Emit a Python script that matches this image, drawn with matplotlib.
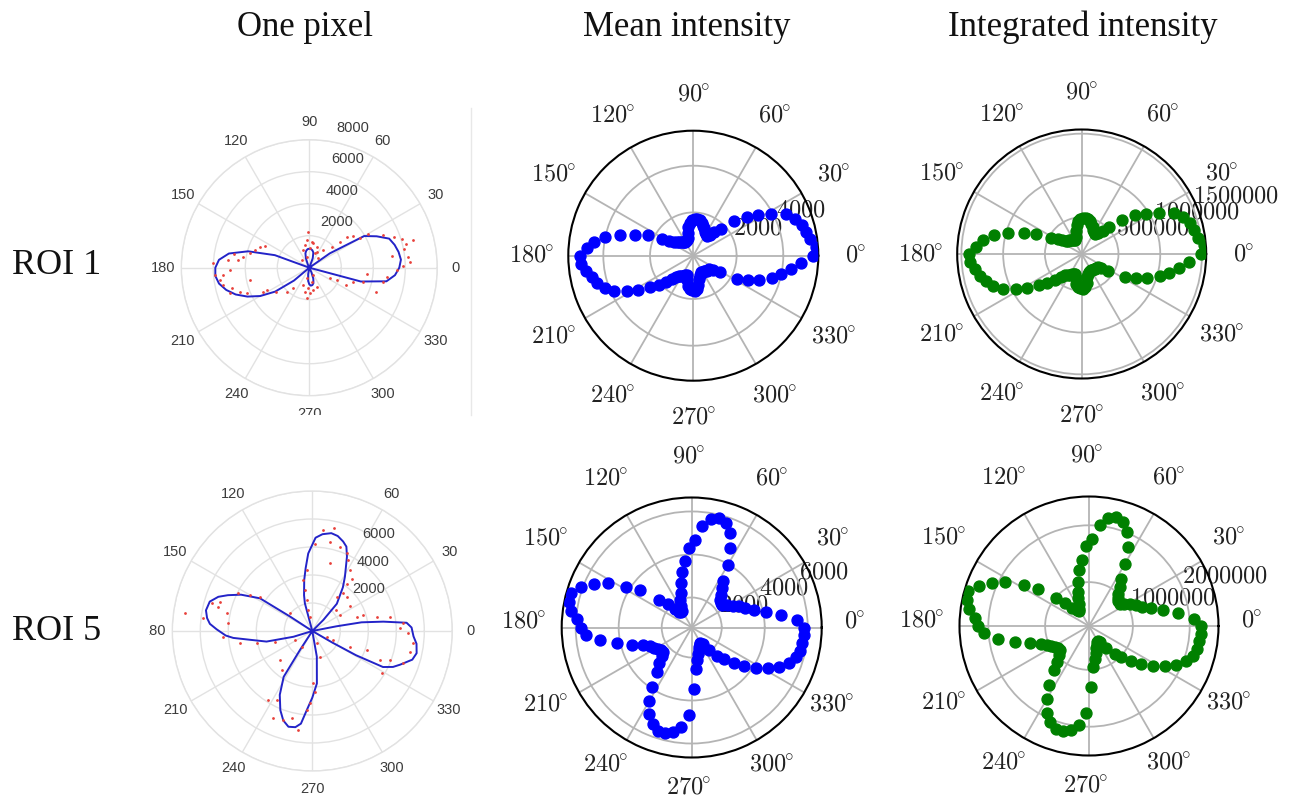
import numpy as np
import matplotlib
matplotlib.use("Agg")
import matplotlib.pyplot as plt
from matplotlib.patches import Rectangle
from matplotlib.lines import Line2D
from matplotlib.transforms import ScaledTranslation

plt.rcParams["mathtext.fontset"] = "cm"

# ---------------------------------------------------------------- data
# polarizer angles (deg) of the ROI-averaged measurements
roi_angles = np.arange(0, 360, 4)

roi1_mean = [5287, 5401, 5215, 5073, 4973, 4787, 4501, 3930, 3402, 3002,
             2431, 1788, 1503, 1288, 1174, 1217, 1288, 1403, 1503, 1603,
             1688, 1717, 1717, 1660, 1574, 1403, 1146, 931, 860, 831,
             831, 860, 889, 931, 974, 1031, 1174, 1360, 1645, 2288,
             2788, 3430, 4002, 4430, 4716, 5001, 4973, 4787, 4601, 4430,
             4187, 3859, 3359, 2931, 2431, 2074, 1745, 1503, 1317, 1217,
             1174, 1117, 1060, 1031, 1217, 1460, 1574, 1631, 1645, 1574,
             1403, 1174, 1031, 974, 946, 946, 960, 974, 1003, 1031,
             1046, 1174, 1503, 2245, 2688, 3145, 3645, 4002, 4359, 4787]

roi1_integrated = [1490000, 1522000, 1470000, 1431000, 1403000, 1351000, 1272000, 1113000, 966000, 855000,
                   696000, 517000, 437000, 378000, 346000, 358000, 378000, 410000, 437000, 465000,
                   489000, 497000, 497000, 481000, 457000, 410000, 338000, 279000, 259000, 251000,
                   251000, 259000, 267000, 279000, 290000, 306000, 346000, 398000, 477000, 656000,
                   795000, 974000, 1133000, 1252000, 1331000, 1411000, 1403000, 1351000, 1300000, 1252000,
                   1184000, 1093000, 954000, 835000, 696000, 596000, 505000, 437000, 386000, 358000,
                   346000, 330000, 314000, 306000, 358000, 426000, 457000, 473000, 477000, 457000,
                   410000, 346000, 306000, 290000, 282000, 282000, 286000, 290000, 298000, 306000,
                   310000, 346000, 437000, 644000, 767000, 894000, 1033000, 1133000, 1232000, 1351000]

roi5_mean = [5813, 5534, 4821, 4124, 3628, 3240, 3008, 2775, 2543, 2372,
             2388, 2465, 2620, 2930, 3240, 3938, 4713, 5333, 5720, 5829,
             5720, 5333, 4666, 4325, 3705, 3240, 2744, 2279, 2000, 1721,
             1504, 1473, 1535, 1768, 2155, 2620, 3550, 4201, 5023, 5565,
             6061, 6464, 6418, 6278, 5953, 5767, 5534, 4914, 4139, 3473,
             3008, 2744, 2589, 2465, 2388, 2372, 2543, 2853, 3240, 3938,
             4558, 5100, 5441, 5643, 5674, 5534, 5255, 4682, 3473, 2543,
             2155, 1892, 1690, 1566, 1458, 1411, 1504, 1923, 2388, 2698,
             3163, 3628, 4139, 4604, 5069, 5410, 5643, 5751, 5798, 5829]

roi5_integrated = [2191000, 2086000, 1817000, 1554000, 1367000, 1221000, 1134000, 1046000, 958000, 894000,
                   900000, 929000, 988000, 1104000, 1221000, 1484000, 1776000, 2010000, 2156000, 2197000,
                   2156000, 2010000, 1759000, 1630000, 1397000, 1221000, 1034000, 859000, 754000, 649000,
                   567000, 555000, 579000, 666000, 812000, 988000, 1338000, 1584000, 1893000, 2098000,
                   2285000, 2437000, 2419000, 2367000, 2244000, 2174000, 2086000, 1852000, 1560000, 1309000,
                   1134000, 1034000, 976000, 929000, 900000, 894000, 958000, 1075000, 1221000, 1484000,
                   1718000, 1922000, 2051000, 2127000, 2139000, 2086000, 1981000, 1765000, 1309000, 958000,
                   812000, 713000, 637000, 590000, 549000, 532000, 567000, 725000, 900000, 1017000,
                   1192000, 1367000, 1560000, 1735000, 1911000, 2039000, 2127000, 2168000, 2185000, 2197000]

# single-pixel measurements (angle in deg, intensity)
px1_angle = [3, 6, 11, 15, 14, 17, 24, 30, 30, 36, 39, 40, 43, 52, 65, 349, 340, 354, 345.5, 342,
             335, 336, 333, 353, 358.5, 8, 20, 1,
             177.4, 184.4, 188, 191.4, 181.7, 174.6, 173.8, 170.5, 166.4, 157, 154, 191.7, 198, 199,
             202, 207.5, 216, 226.6, 232, 207.6, 185, 195, 170, 162,
             95.5, 85, 80.7, 101, 71, 88, 109, 68, 104, 46, 135, 299, 256, 279.5, 251, 267, 280,
             271.5, 260, 291, 92, 265]
px1_value = [6291, 6228, 6020, 6728, 6228, 6082, 5062, 4249, 3687, 3395, 3000, 2520, 1916, 1416, 1104,
             4708, 4458, 3604, 3479, 2895, 2562, 1875, 1458, 4874, 5457, 5208, 5624, 5832,
             5999, 5916, 5645, 5478, 4958, 5083, 4458, 4187, 3812, 3354, 3083, 3791, 5208, 4583,
             4228, 3249, 2541, 2062, 1625, 3000, 5416, 4999, 4791, 3541,
             1729, 1625, 1541, 1437, 1396, 1208, 1166, 958, 708, 812, 687, 521, 687, 896, 1146, 1291,
             1416, 1604, 1521, 1271, 2250, 1875]

px5_angle = [83.8, 78, 78.8, 71.8, 66, 63, 58, 53, 54, 51, 75, 95, 100, 100, 100, 101, 99, 88,
             54.7, 45, 33, 41, 30, 18, 17.4, 12.6, 10.5, 4.8, 1.7, 358.6, 353, 348, 340.4, 339.5,
             328.6, 336.8, 340.7, 337.4, 336.8, 338,
             171.8, 173.4, 164.6, 165.5, 162.4, 168.3, 174.8, 183.6, 189.7, 192.5, 196, 153, 150,
             146.7, 141.6,
             221.9, 231.8, 242.7, 237.5, 245.9, 252, 256.7, 262, 266, 268, 272.5, 271, 286.6, 289,
             207.4, 235.8]
px5_value = [7262, 7500, 6500, 6333, 6072, 5691, 5119, 4691, 4191, 3476, 5000, 4381, 3691, 2976,
             2262, 1524, 1048, 6191,
             3000, 3476, 3214, 2286, 2286, 3333, 3810, 4714, 5643, 6524, 6262, 6857, 7262, 7143,
             6905, 5929, 5810, 5262, 4119, 2905, 1643, 1095,
             9191, 7833, 7453, 6929, 6929, 6238, 6024, 6381, 5238, 4072, 2762, 5929, 5143, 4476, 2024,
             3095, 3548, 5548, 5857, 6833, 6691, 6405, 7143, 5667, 5167, 4333, 3738, 1905, 929,
             1405, 1357]

# fitted single-pixel response curves (angle in deg, intensity)
fit1_angle = [340, 345, 350, 355, 360, 365, 370, 375, 380, 385, 390, 395, 400,
              430, 435, 440, 445, 450, 455, 460, 465, 470, 475, 480,
              515, 520, 525, 530, 535, 540, 545, 550, 555, 560, 565, 570, 575, 580, 585,
              615, 620, 625, 630, 635, 640, 645, 650, 655, 660, 700]
fit1_value = [0, 3333, 4895, 5374, 5624, 5749, 5666, 5520, 5312, 4645, 3958, 1562, 0,
              625, 979, 1104, 1166, 1187, 1166, 1083, 937, 625, 208, 0,
              0, 2291, 3958, 5103, 5666, 5874, 5895, 5728, 5374, 4895, 4270, 3541, 2604, 1250, 0,
              0, 417, 833, 1042, 1125, 1104, 1000, 729, 312, 0, 0]

fit5_angle = [330, 330, 331, 333, 336, 339, 344, 348, 353, 357, 362, 365, 367.5, 370, 371, 370,
              405, 405, 408, 415, 419, 425, 428, 431, 435, 439, 444, 448, 453, 456, 459, 463, 465, 465, 465,
              507, 507, 508, 513, 517, 520, 524, 529, 533, 536, 539, 543, 545, 548, 553, 557, 557,
              597, 597, 598, 603, 608, 612, 616, 620, 623, 626, 630, 635, 640, 640, 690]
fit5_value = [0, 1667, 3572, 5667, 6310, 6714, 7429, 7619, 7500, 7238, 7095, 6762, 5119, 3572, 1762, 0,
              0, 1119, 2619, 3810, 4524, 5857, 6500, 6762, 7024, 7119, 6952, 6667, 5548, 4524, 3691,
              2619, 2048, 952, 0,
              0, 1905, 4405, 5714, 6548, 7143, 7619, 7738, 7572, 7334, 6833, 6191, 5667, 4500, 3357,
              1405, 0,
              0, 1619, 3857, 5119, 6095, 6714, 7048, 6976, 6667, 5667, 4762, 3762, 1857, 0, 0]

column_titles = ["One pixel", "Mean intensity", "Integrated intensity"]
row_titles = ["ROI 1", "ROI 5"]
grid_angles = np.arange(0, 360, 30)

# ---------------------------------------------------------------- figure
W, H = 1294, 802
fig = plt.figure(figsize=(W / 100, H / 100), dpi=100)


def polar_axes(cx, cy, radius):
    return fig.add_axes([(cx - radius) / W, (H - cy - radius) / H,
                         2 * radius / W, 2 * radius / H], projection="polar")


def matlab_like(ax, rmax, rings, labelled, dx):
    ax.set_ylim(0, rmax)
    ax.set_thetagrids(grid_angles, [str(a) for a in grid_angles],
                      fontsize=10.5, color="#3c3c3c", family="Liberation Sans")
    ax.set_rticks(rings)
    ax.set_yticklabels([])
    ax.tick_params(axis="x", pad=6, length=0)
    ax.grid(True, color="#e2e2e2", lw=1.0)
    ax.spines["polar"].set_color("#e2e2e2")
    ax.spines["polar"].set_linewidth(1.0)
    shift = ScaledTranslation(dx / 100, 14 / 100, fig.dpi_scale_trans)
    for r in labelled:
        ax.text(np.deg2rad(80), r, str(r), transform=ax.transData + shift,
                ha="left", va="center", fontsize=10.5, color="#3c3c3c",
                family="Liberation Sans")


def mpl_like(ax, rmin, rmax, rings, pad=16, label_shift=(0, 0)):
    ax.set_ylim(rmin, rmax)
    ax.set_thetagrids(grid_angles, [rf"${a}^{{\!\!\circ}}$" for a in grid_angles])
    ax.set_rticks(rings)
    ax.set_yticklabels([rf"${v}$" for v in rings])
    ax.tick_params(axis="x", labelsize=17.5, pad=pad, colors="#222222")
    ax.tick_params(axis="y", labelsize=17.5, colors="#222222")
    ax.grid(True, color="#b4b4b4", lw=1.3)
    ax.spines["polar"].set_linewidth(1.5)
    if label_shift != (0, 0):
        nudge = ScaledTranslation(label_shift[0] / 100, label_shift[1] / 100,
                                  fig.dpi_scale_trans)
        for lab in ax.get_xticklabels():
            lab.set_transform(lab.get_transform() + nudge)


# single pixel, ROI 1
ax = polar_axes(309.3, 267.7, 128)
matlab_like(ax, 8000, [2000, 4000, 6000, 8000], [2000, 4000, 6000, 8000], 5)
ax.plot(np.deg2rad(fit1_angle), fit1_value, color="#2323c8", lw=1.4, zorder=3)
ax.scatter(np.deg2rad(px1_angle), px1_value, s=4, color="#e8403a", lw=0, zorder=4)

# single pixel, ROI 5
ax = polar_axes(312.3, 631.0, 140)
matlab_like(ax, 10000, [2000, 4000, 6000, 8000, 10000], [2000, 4000, 6000], 35)
ax.plot(np.deg2rad(fit5_angle), fit5_value, color="#2323c8", lw=1.4, zorder=3)
ax.scatter(np.deg2rad(px5_angle), px5_value, s=4, color="#e8403a", lw=0, zorder=4)

# mean intensity
ax = polar_axes(693.3, 255.7, 125)
mpl_like(ax, 146, 5500, [2000, 4000])
ax.scatter(np.deg2rad(roi_angles), roi1_mean, s=62, color="b", zorder=3)

ax = polar_axes(691.7, 627.5, 130)
mpl_like(ax, 605, 6650, [2000, 4000, 6000], pad=15, label_shift=(-3, 6))
ax.scatter(np.deg2rad(roi_angles), roi5_mean, s=62, color="b", zorder=3)

# integrated intensity
ax = polar_axes(1081.7, 254.0, 124.5)
mpl_like(ax, 60000, 1550000, [500000, 1000000, 1500000])
ax.scatter(np.deg2rad(roi_angles), roi1_integrated, s=62, color="g", zorder=3)

ax = polar_axes(1089.0, 626.0, 129.5)
mpl_like(ax, 228000, 2507000, [1000000, 2000000], pad=15, label_shift=(-3, 6))
ax.scatter(np.deg2rad(roi_angles), roi5_integrated, s=62, color="g", zorder=3)

# panel edges of the single-pixel views
fig.add_artist(Rectangle((150 / W, 1 - 481 / H), 330 / W, 66 / H,
                         transform=fig.transFigure, facecolor="white",
                         edgecolor="none", zorder=5))
fig.add_artist(Rectangle((115 / W, 1 - 648 / H), 34 / W, 34 / H,
                         transform=fig.transFigure, facecolor="white",
                         edgecolor="none", zorder=5))
fig.add_artist(Line2D([471 / W, 471 / W], [1 - 415 / H, 1 - 108 / H],
                      transform=fig.transFigure, color="#e8e8e8", lw=1.0, zorder=6))

# column and row headings
for x, t in zip([305, 686.5, 1083], column_titles):
    fig.text(x / W, 1 - 27 / H, t, ha="center", va="center", fontsize=25,
             family="Liberation Serif", color="#111111")
for y, t in zip([265, 632], row_titles):
    fig.text(12 / W, 1 - y / H, t, ha="left", va="center", fontsize=26,
             family="Liberation Serif", color="#111111")

fig.savefig("out.png", dpi=100, facecolor="white")
